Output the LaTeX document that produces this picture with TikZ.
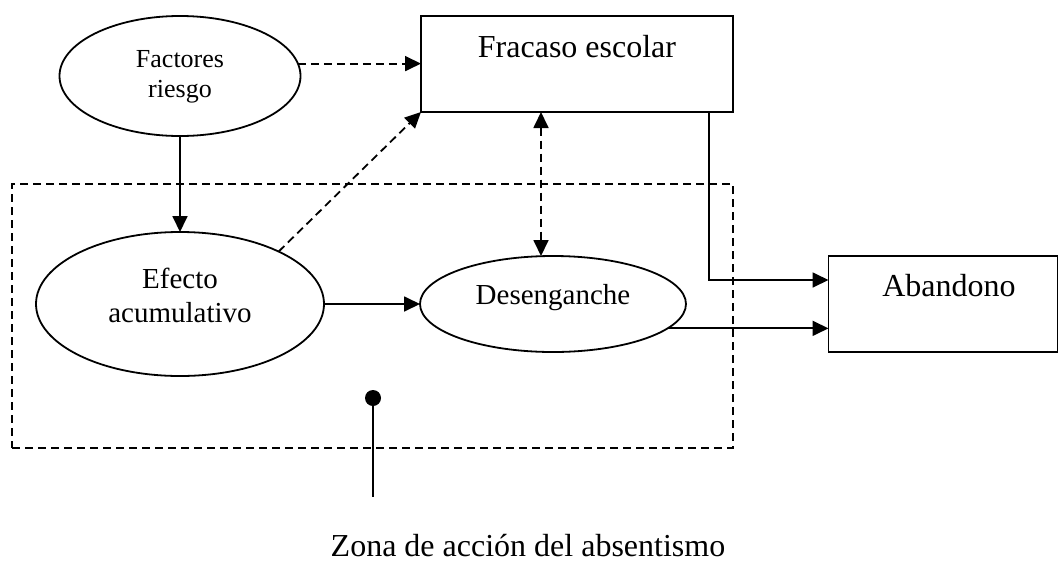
\documentclass[tikz,border=0pt]{standalone}
\usepackage{fontspec}
\setmainfont{Liberation Serif}
\usetikzlibrary{arrows.meta,calc,shapes.geometric}
\begin{document}
\begin{tikzpicture}[x=1pt,y=-1pt,
  every node/.style={inner sep=0pt, outer sep=0pt},
  shapeline/.style={draw=black, line width=1.8pt},
  oval/.style={shapeline, ellipse},
  box/.style={shapeline, rectangle},
  tip/.tip={Triangle[length=16pt,width=15pt]},
  conn/.style={line width=1.8pt, -tip},
  dconn/.style={conn, dash pattern=on 8pt off 5pt},
  zonebox/.style={draw=black, line width=1.6pt, dash pattern=on 8pt off 5pt, rectangle},
  lbl/.style={anchor=base, align=center}
]
\useasboundingbox (0,0) rectangle (1058,563);
% shapes
\node[oval, minimum width=241pt, minimum height=120pt] (fr) at (180,76) {};
\node[box, minimum width=312pt, minimum height=96pt] (fe) at (577,64) {};
\node[oval, minimum width=288pt, minimum height=144pt] (ea) at (180,304) {};
\node[oval, minimum width=266pt, minimum height=96pt] (de) at (553,304) {};
\node[box, minimum width=229pt, minimum height=96pt] (ab) at (943,304) {};
\node[zonebox, minimum width=721pt, minimum height=264pt] (zn) at (372.5,316) {};
% texts
\node[lbl, font=\fontsize{26}{30}\selectfont] (tfr) at (180,97) {Factores\\riesgo};
\node[lbl, font=\fontsize{32}{38}\selectfont] (tfe) at (577,57) {Fracaso escolar};
\node[lbl, font=\fontsize{29}{34}\selectfont] (tea) at (180,322) {Efecto\\acumulativo};
\node[lbl, font=\fontsize{29}{34}\selectfont] (tde) at (553,304) {Desenganche};
\node[lbl, font=\fontsize{32}{38}\selectfont] (tab) at (949,296) {Abandono};
\node[lbl, font=\fontsize{32}{38}\selectfont] (tzn) at (528,556) {Zona de acción del absentismo};
% pin
\node[circle, fill=black, minimum size=16pt] (dot) at (373,398) {};
\coordinate (pinend) at (373,497);
\coordinate (dtop) at ($(fe.south west)+(120,0)$);
% connectors
\draw[dconn] (fr.6) -- (fr.6 -| fe.west);
\draw[dconn] (ea.28) -- (fe.south west);
\draw[conn] (fr.south) -- (ea.north);
\draw[dconn, tip-tip] (dtop) -- (dtop |- de.north);
\draw[conn] (ea.east) -- (de.west);
\draw[conn] ($(fe.south east)+(-24,0)$) |- ($(ab.west)+(0,-24)$);
\draw[conn] (de.-12) -- (de.-12 -| ab.west);
\draw[line width=1.8pt] (dot.center) -- (pinend);
\end{tikzpicture}
\end{document}
